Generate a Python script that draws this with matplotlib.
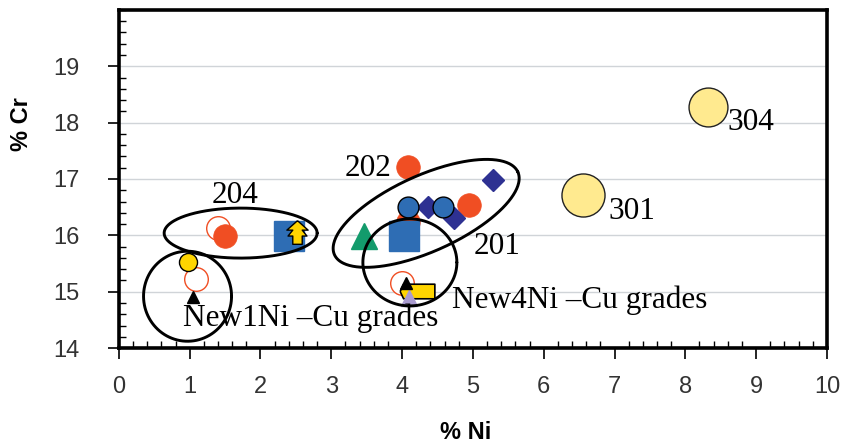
import numpy as np
import matplotlib
matplotlib.use("Agg")
import matplotlib.pyplot as plt

# ---------------- data ----------------
big_ni = [8.32, 6.55]            # 304, 301
big_cr = [18.27, 16.71]

red_ni = [4.08, 4.08, 4.94, 1.50]
red_cr = [17.21, 16.23, 16.54, 15.99]

red_open_ni = [1.40, 1.09, 4.00]
red_open_cr = [16.13, 15.22, 15.15]

blue_circ_ni = [4.08, 4.58]
blue_circ_cr = [16.50, 16.50]

navy_dia_ni = [5.28, 4.36, 4.73]
navy_dia_cr = [16.98, 16.50, 16.30]

blue_sq_ni = [4.03, 2.40]
blue_sq_cr = [15.99, 15.99]

green_tri_ni = [3.46]
green_tri_cr = [15.99]

yellow_arrow_ni = [2.51]
yellow_arrow_cr = [16.06]

yellow_circ_ni = [0.97]
yellow_circ_cr = [15.52]

yellow_rect_ni = [4.21]
yellow_rect_cr = [15.01]

black_tri_ni = [1.05, 4.05]
black_tri_cr = [14.90, 15.15]

lav_tri_ni = [4.10]
lav_tri_cr = [14.89]

grade_labels = ["304", "301", "202", "204", "201",
                "New1Ni \u2013Cu grades", "New4Ni \u2013Cu grades"]
label_ni = [8.59, 6.91, 3.19, 1.31, 5.01, 0.90, 4.70]
label_cr = [18.01, 16.43, 17.19, 16.70, 15.81, 14.53, 14.85]

# ellipses: center (Ni, Cr), semi-axes in pixels, angle in degrees
ell_center_ni = [1.72, 0.97, 4.34, 4.11]
ell_center_cr = [16.04, 14.92, 16.39, 15.52]
ell_a_px = [76.5, 44.0, 100.6, 47.0]
ell_b_px = [25.0, 45.0, 38.0, 43.5]
ell_angle = [0.0, 0.0, 24.3, 0.0]

x_ticks = list(range(0, 11))
y_ticks = list(range(14, 20))

# ---------------- figure ----------------
W, H = 849, 448
fig = plt.figure(figsize=(W / 100, H / 100), dpi=100)
ax = fig.add_axes([0.140, 0.223, 0.834, 0.755])
ax.set_xlim(0, 10)
ax.set_ylim(14, 20)

sx = 0.834 * W / 10.0   # px per unit
sy = 0.755 * H / 6.0

ax.set_axisbelow(True)
ax.yaxis.grid(True, color="#d0d4d8", linewidth=1.0)

red = "#F04E23"
blue = "#2E6DB4"
navy = "#2E3192"
green = "#139B6C"
yellow = "#FFD500"
pale = "#FFEA8F"
lav = "#A99BD0"

big_sizes = [28, 31]
for xx, yy, ms in zip(big_ni, big_cr, big_sizes):
    ax.plot([xx], [yy], 'o', ms=ms, mfc=pale, mec="#222222", mew=1.0, ls='none', zorder=3)
ax.plot(red_open_ni, red_open_cr, 'o', ms=17, mfc='white', mec=red, mew=1.0, ls='none', zorder=3)
ax.plot(red_ni, red_cr, 'o', ms=17, mfc=red, mec=red, mew=0.5, ls='none', zorder=4)
ax.plot(blue_sq_ni, blue_sq_cr, 's', ms=21, mfc=blue, mec=blue, ls='none', zorder=4)
ax.plot(green_tri_ni, green_tri_cr, '^', ms=19, mfc=green, mec=green, ls='none', zorder=4)
ax.plot(navy_dia_ni, navy_dia_cr, 'D', ms=11, mfc=navy, mec=navy, ls='none', zorder=5)
ax.plot(blue_circ_ni, blue_circ_cr, 'o', ms=15, mfc=blue, mec="black", mew=1.0, ls='none', zorder=6)
ax.plot(yellow_circ_ni, yellow_circ_cr, 'o', ms=13, mfc=yellow, mec="black", mew=1.0, ls='none', zorder=5)

arrow_marker = [(0, 1), (0.9, 0.2), (0.4, 0.2), (0.8, -0.3), (0.4, -0.3), (0.4, -1),
                (-0.4, -1), (-0.4, -0.3), (-0.8, -0.3), (-0.4, 0.2), (-0.9, 0.2), (0, 1)]
ax.plot(yellow_arrow_ni, yellow_arrow_cr, marker=arrow_marker, ms=17, mfc=yellow,
        mec="black", mew=1.0, ls='none', zorder=6)

rect_marker = [(-1, 0), (-0.8, 0.42), (1, 0.42), (1, -0.42), (-0.8, -0.42), (-1, 0)]
ax.plot(yellow_rect_ni, yellow_rect_cr, marker=rect_marker, ms=25, mfc=yellow,
        mec="black", mew=1.2, ls='none', zorder=5)
ax.plot(lav_tri_ni, lav_tri_cr, '^', ms=11, mfc=lav, mec=lav, ls='none', zorder=6)
ax.plot(black_tri_ni, black_tri_cr, '^', ms=9, mfc="black", mec="black", ls='none', zorder=7)

# ellipses drawn in pixel space converted to data units
t = np.linspace(0, 2 * np.pi, 300)
for cx, cy, a, b, ang in zip(ell_center_ni, ell_center_cr, ell_a_px, ell_b_px, ell_angle):
    th = np.deg2rad(ang)
    px = a * np.cos(t) * np.cos(th) - b * np.sin(t) * np.sin(th)
    py = a * np.cos(t) * np.sin(th) + b * np.sin(t) * np.cos(th)
    ax.plot(cx + px / sx, cy + py / sy, color="black", lw=2.1, zorder=8, solid_capstyle='round')

for s, xx, yy in zip(grade_labels, label_ni, label_cr):
    ax.text(xx, yy, s, family="Liberation Serif", fontsize=22.5, ha='left', va='center',
            color="black", zorder=9)

# axes styling
for sp in ax.spines.values():
    sp.set_linewidth(2.6)
    sp.set_color("black")

ax.set_xticks(x_ticks)
ax.set_yticks(y_ticks)
ax.set_xticks(np.arange(0, 10.01, 0.2), minor=True)
ax.set_yticks(np.arange(14, 20.01, 0.2), minor=True)
ax.tick_params(which='major', direction='out', length=8, width=1.2, colors='black',
               labelcolor='#333333', labelsize=17)
ax.tick_params(which='minor', direction='in', length=5, width=1.0, colors='black')
ax.tick_params(axis='x', which='major', pad=12)
ax.tick_params(axis='y', which='major', pad=20)
ax.tick_params(axis='both', which='both', top=False, right=False)
for lab in ax.get_xticklabels() + ax.get_yticklabels():
    lab.set_family("Liberation Sans")

ax.set_xlabel("% Ni", family="Liberation Sans", fontsize=17, fontweight='bold')
ax.set_ylabel("% Cr", family="Liberation Sans", fontsize=17, fontweight='bold')
ax.xaxis.set_label_coords(0.49, -0.215)
ax.yaxis.set_label_coords(-0.121, 0.663)

fig.savefig("out.png", dpi=100)
